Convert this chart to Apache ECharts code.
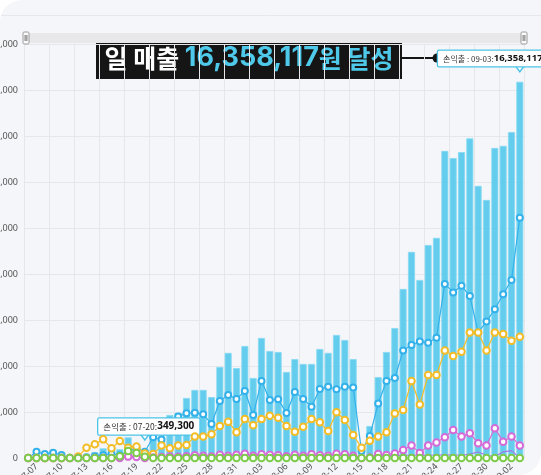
<!DOCTYPE html>
<html>
<head>
<meta charset="utf-8">
<script src="https://cdn.jsdelivr.net/npm/echarts@6/dist/echarts.min.js"></script>
<style>
  html, body { margin: 0; padding: 0; background: #ffffff; }
  #chart {
    width: 541px;
    height: 475px;
    background: #f5f6f9;
    border-radius: 22px 0 22px 0;
    overflow: hidden;
  }
</style>
</head>
<body>
<div id="chart"></div>
<script>
  // 날짜 (07-06 ~ 09-03)
  const dates = [
    '07-06', '07-07', '07-08', '07-09', '07-10', '07-11', '07-12', '07-13', '07-14', '07-15',
    '07-16', '07-17', '07-18', '07-19', '07-20', '07-21', '07-22', '07-23', '07-24', '07-25',
    '07-26', '07-27', '07-28', '07-29', '07-30', '07-31', '08-01', '08-02', '08-03', '08-04',
    '08-05', '08-06', '08-07', '08-08', '08-09', '08-10', '08-11', '08-12', '08-13', '08-14',
    '08-15', '08-16', '08-17', '08-18', '08-19', '08-20', '08-21', '08-22', '08-23', '08-24',
    '08-25', '08-26', '08-27', '08-28', '08-29', '08-30', '08-31', '09-01', '09-02', '09-03'
  ]

  // 순매출 (막대)
  const sales = [
    0, 0, 0, 0, 0, 0, 0, 150000, 250000, 420000,
    520000, 380000, 900000, 620000, 349300, 1100000, 920000, 1870000, 1960000, 2610000,
    2960000, 2960000, 2650000, 3960000, 4570000, 3910000, 4870000, 3480000, 5220000, 4650000,
    4610000, 3740000, 4300000, 4090000, 4090000, 4740000, 4570000, 5350000, 5130000, 4300000,
    570000, 1390000, 3520000, 4610000, 5650000, 7350000, 8960000, 7740000, 9260000, 9570000,
    13350000, 13040000, 13300000, 13900000, 11830000, 11220000, 13480000, 13570000, 14170000, 16358117
  ]

  // 파란 선
  const blueLine = [
    0, 270000, 170000, 230000, 130000, 0, 0, 30000, 80000, 120000,
    180000, 120000, 300000, 420000, 270000, 900000, 800000, 1450000, 1800000, 1950000,
    1970000, 1900000, 1480000, 2480000, 2740000, 2570000, 2910000, 1870000, 3350000, 2520000,
    2550000, 1960000, 2870000, 2570000, 2230000, 3000000, 3100000, 2990000, 3100000, 3070000,
    300000, 960000, 2370000, 3350000, 3480000, 4670000, 4910000, 5060000, 5010000, 5230000,
    7570000, 7200000, 7490000, 7040000, 5460000, 5930000, 6470000, 7120000, 7740000, 10450000
  ]

  // 노란 선
  const yellowLine = [
    0, 0, 0, 0, 0, 0, 60000, 450000, 600000, 810000,
    420000, 740000, 450000, 500000, 200000, 170000, 540000, 420000, 540000, 570000,
    930000, 930000, 1030000, 1390000, 1580000, 1120000, 1700000, 1420000, 1700000, 1840000,
    1750000, 1390000, 1140000, 1360000, 1700000, 1550000, 1170000, 1990000, 1650000, 1000000,
    450000, 750000, 930000, 1120000, 1940000, 2090000, 3350000, 2330000, 3610000, 3610000,
    4670000, 4430000, 4620000, 5460000, 5460000, 4670000, 5460000, 5390000, 5100000, 5270000
  ]

  // 분홍 선
  const pinkLine = [
    0, 0, 0, 0, 0, 0, 0, 0, 0, 0,
    0, 0, 60000, 40000, 0, 20000, 40000, 60000, 50000, 80000,
    120000, 100000, 60000, 140000, 100000, 140000, 180000, 100000, 160000, 140000,
    120000, 80000, 140000, 100000, 160000, 120000, 100000, 180000, 160000, 100000,
    0, 20000, 170000, 130000, 200000, 350000, 540000, 220000, 540000, 670000,
    900000, 1220000, 930000, 1080000, 640000, 540000, 1290000, 710000, 930000, 540000
  ]

  // 보라 선
  const violetLine = [
    0, 0, 0, 0, 0, 0, 0, 0, 0, 0,
    0, 0, 80000, 60000, 20000, 40000, 60000, 80000, 80000, 100000,
    110000, 110000, 90000, 120000, 120000, 110000, 130000, 110000, 130000, 120000,
    110000, 100000, 120000, 110000, 120000, 110000, 110000, 130000, 120000, 100000,
    20000, 40000, 90000, 80000, 100000, 120000, 130000, 110000, 120000, 130000,
    140000, 130000, 120000, 170000, 260000, 120000, 60000, 270000, 320000, 0
  ]

  // 초록 선
  const greenLine = [
    0, 0, 0, 0, 0, 0, 0, 0, 0, 0,
    0, 80000, 300000, 220000, 50000, 0, 0, 0, 0, 0,
    0, 0, 0, 0, 0, 0, 0, 0, 0, 0,
    0, 0, 0, 0, 0, 0, 0, 0, 0, 0,
    0, 0, 0, 0, 0, 0, 0, 0, 0, 0,
    0, 0, 0, 0, 0, 0, 0, 0, 0, 0
  ]

  const yTicks = { min: 0, max: 18000000, interval: 2000000 }

  const FONT = "'Noto Sans', 'Noto Sans CJK KR', sans-serif"
  const KR = "'Noto Sans CJK KR', sans-serif"
  const NUM = "Inter, 'Noto Sans', sans-serif"
  const CYAN = '#4cc3e6'

  const fmt = (v) => Number(v).toLocaleString('en-US')

  const lineSeries = (name, data, color, size, z) => ({
    name,
    type: 'line',
    data,
    z,
    symbol: 'emptyCircle',
    symbolSize: size,
    showAllSymbol: true,
    lineStyle: { color, width: 1.2 },
    itemStyle: { color, borderColor: color, borderWidth: 1.6 },
    emphasis: { disabled: true }
  })

  const tipLabel = (day, value, size) => ({
    formatter: '{a|손익출 : ' + day + ':}{b|' + fmt(value) + '}',
    rich: {
      a: { fontSize: size - 0.5, color: '#333', fontFamily: KR },
      b: { fontSize: size + 1, color: '#111', fontWeight: 'bold', fontFamily: FONT }
    }
  })

  const chart = echarts.init(document.getElementById('chart'), null, { renderer: 'canvas' })

  const option = {
    animation: false,
    backgroundColor: 'transparent',
    textStyle: { fontFamily: FONT },
    grid: { left: 24, right: 17, top: 44, bottom: 17, containLabel: false, outerBoundsMode: 'none' },
    dataZoom: [
      {
        type: 'slider',
        xAxisIndex: 0,
        top: 33,
        height: 10,
        left: 24,
        right: 17,
        start: 0,
        end: 100,
        showDetail: false,
        showDataShadow: false,
        brushSelect: false,
        moveHandleSize: 0,
        backgroundColor: '#ececee',
        borderColor: 'transparent',
        fillerColor: 'rgba(0,0,0,0.015)',
        dataBackground: { lineStyle: { opacity: 0 }, areaStyle: { opacity: 0 } },
        selectedDataBackground: { lineStyle: { opacity: 0 }, areaStyle: { opacity: 0 } },
        handleIcon:
          'path://M2,0H8A2,2 0 0 1 10,2V18A2,2 0 0 1 8,20H2A2,2 0 0 1 0,18V2A2,2 0 0 1 2,0ZM3.6,5V15ZM6.4,5V15Z',
        handleSize: '120%',
        handleStyle: { color: '#fafafa', borderColor: '#9a9a9a', borderWidth: 1 }
      }
    ],
    xAxis: {
      type: 'category',
      data: dates,
      boundaryGap: true,
      axisLine: { show: true, lineStyle: { color: '#e2e3e7' } },
      axisTick: { show: false },
      axisLabel: {
        rotate: 45,
        interval: (i) => i % 3 === 1,
        fontSize: 9,
        color: '#555',
        margin: 7,
        fontFamily: FONT
      },
      splitLine: {
        show: true,
        interval: (i) => i % 3 === 0,
        lineStyle: { color: '#e6e7eb', width: 1 }
      }
    },
    yAxis: {
      type: 'value',
      min: yTicks.min,
      max: yTicks.max,
      interval: yTicks.interval,
      axisLine: { show: false },
      axisTick: { show: false },
      axisLabel: { formatter: fmt, fontSize: 9, color: '#555', margin: 6, fontFamily: FONT },
      splitLine: { lineStyle: { color: '#e6e7eb', width: 1 } }
    },
    series: [
      {
        name: '순매출',
        type: 'bar',
        data: sales,
        z: 2,
        barCategoryGap: '16%',
        itemStyle: { color: 'rgba(84,201,236,0.9)', borderColor: '#86d9f2', borderWidth: 0.8 },
        emphasis: { disabled: true },
        markPoint: {
          silent: true,
          symbol: 'path://M0,0L10,0L5,6Z',
          symbolSize: [9, 6],
          itemStyle: { color: '#fff', borderColor: CYAN, borderWidth: 1.3 },
          label: {
            show: true,
            position: 'top',
            distance: -1,
            backgroundColor: '#fff',
            borderColor: CYAN,
            borderWidth: 1.3,
            borderRadius: 1,
            padding: [3, 5, 3, 5]
          },
          data: [
            {
              coord: [14, sales[14]],
              symbolOffset: [0, -13],
              label: Object.assign({ offset: [4, 0] }, tipLabel(dates[14], sales[14], 9))
            },
            {
              coord: [59, sales[59]],
              symbolOffset: [0, -13],
              label: Object.assign({ offset: [-27, 0] }, tipLabel(dates[59], sales[59], 8.5))
            }
          ]
        }
      },
      Object.assign(lineSeries('보라', violetLine, '#a27ae3', 0, 3), { symbol: 'none' }),
      lineSeries('파랑', blueLine, '#33b1ea', 6, 4),
      lineSeries('노랑', yellowLine, '#f3bd27', 6.5, 5),
      lineSeries('분홍', pinkLine, '#d46ad8', 6.5, 6),
      lineSeries('초록', greenLine, '#7dcb4a', 6.5, 7)
    ],
    graphic: [
      {
        type: 'line',
        silent: true,
        z: 1,
        shape: { x1: 0, y1: 15.5, x2: 541, y2: 15.5 },
        style: { stroke: '#e7e8ec', lineWidth: 1 }
      },
      {
        type: 'group',
        zlevel: 1,
        z: 100,
        silent: true,
        children: [
          {
            type: 'rect',
            shape: { x: 96, y: 37, width: 306, height: 42 },
            style: { fill: '#151515' }
          },
          {
            type: 'text',
            x: 249,
            y: 58,
            style: {
              text: '{w|일 매출 }{n|16,358,117}{c|원 달성}',
              align: 'center',
              verticalAlign: 'middle',
              rich: {
                w: { fill: '#ffffff', fontSize: 25, fontWeight: 'bold', fontFamily: KR },
                n: { fill: '#4fc9ea', fontSize: 27, fontWeight: 'bold', fontFamily: NUM },
                c: { fill: '#4fc9ea', fontSize: 25, fontWeight: 'bold', fontFamily: KR }
              }
            }
          },
          {
            type: 'line',
            shape: { x1: 402, y1: 58, x2: 437, y2: 58 },
            style: { stroke: '#151515', lineWidth: 2 }
          },
          {
            type: 'circle',
            shape: { cx: 437, cy: 58, r: 4.5 },
            style: { fill: '#151515' }
          }
        ]
      }
    ]
  }

  chart.setOption(option)
</script>
</body>
</html>
